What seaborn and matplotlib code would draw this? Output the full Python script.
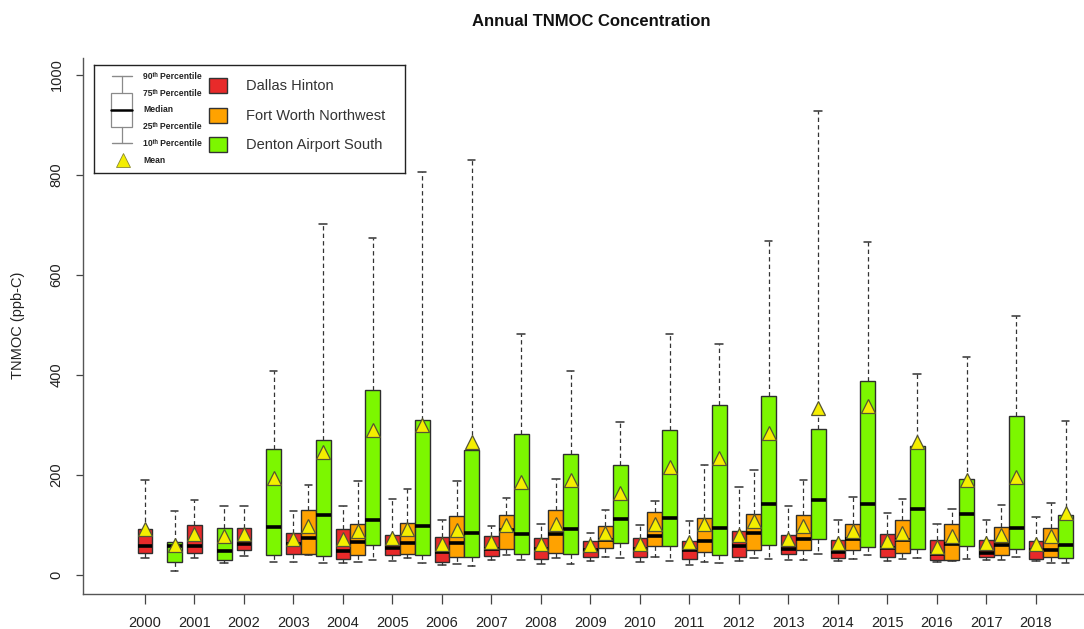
import numpy as np
import pandas as pd
import matplotlib
matplotlib.use("Agg")
import matplotlib.pyplot as plt
from matplotlib.patches import Rectangle
import seaborn as sns

years = list(range(2000, 2019))
year_labels = [str(y) for y in years]
sites = ["Dallas Hinton", "Fort Worth Northwest", "Denton Airport South"]
site_colors = ["#e82a2a", "#ffa200", "#7cf700"]
nan = np.nan

# Dallas Hinton
dal_p10 = [35, 35, 39, 27, 25, 29, 21, 31, 23, 29, 27, 20, 29, 31, 29, 28, 27, 30, 28]
dal_p25 = [45, 44, 50, 43, 32, 41, 26, 39, 32, 37, 37, 33, 37, 42, 35, 37, 31, 37, 33]
dal_p50 = [59, 58, 63, 63, 48, 55, 47, 53, 53, 50, 53, 50, 59, 52, 47, 55, 43, 45, 51]
dal_p75 = [92, 100, 95, 85, 92, 81, 77, 78, 75, 68, 75, 68, 89, 80, 71, 83, 70, 70, 68]
dal_p90 = [190, 151, 138, 128, 138, 153, 111, 98, 102, 85, 100, 108, 177, 139, 110, 125, 102, 111, 117]
dal_mean = [92, 82, 82, 72, 73, 75, 63, 67, 63, 61, 63, 67, 80, 72, 65, 69, 57, 65, 63]

# Fort Worth Northwest (no data 2000-2002)
ftw_p10 = [nan, nan, nan, 41, 27, 35, 23, 41, 35, 37, 37, 27, 35, 31, 33, 33, 29, 30, 25]
ftw_p25 = [nan, nan, nan, 43, 40, 43, 37, 53, 45, 55, 58, 47, 51, 50, 51, 45, 30, 41, 37]
ftw_p50 = [nan, nan, nan, 74, 67, 65, 65, 90, 83, 71, 79, 68, 85, 73, 72, 71, 63, 60, 50]
ftw_p75 = [nan, nan, nan, 130, 103, 105, 119, 120, 131, 99, 127, 115, 123, 121, 102, 110, 102, 97, 95]
ftw_p90 = [nan, nan, nan, 181, 189, 173, 189, 155, 193, 130, 149, 220, 211, 190, 157, 152, 132, 140, 145]
ftw_mean = [nan, nan, nan, 99, 89, 92, 90, 100, 103, 85, 103, 102, 108, 99, 89, 85, 78, 80, 79]

# Denton Airport South
den_p10 = [9, 25, 27, 24, 30, 25, 19, 30, 23, 35, 29, 25, 32, 43, 40, 35, 33, 37, 24]
den_p25 = [27, 31, 41, 39, 61, 41, 37, 43, 42, 65, 58, 40, 61, 72, 57, 53, 58, 52, 35]
den_p50 = [59, 49, 97, 121, 110, 99, 85, 82, 93, 112, 115, 95, 142, 150, 142, 133, 123, 95, 61]
den_p75 = [66, 95, 252, 271, 370, 310, 250, 282, 243, 220, 290, 340, 358, 293, 389, 259, 193, 318, 120]
den_p90 = [128, 138, 408, 702, 675, 807, 830, 483, 409, 307, 483, 463, 669, 928, 667, 402, 437, 519, 309]
den_mean = [60, 78, 195, 247, 290, 301, 267, 187, 190, 165, 217, 235, 285, 335, 338, 267, 191, 197, 125]

stats_by_site = {
    sites[0]: (dal_p10, dal_p25, dal_p50, dal_p75, dal_p90, dal_mean),
    sites[1]: (ftw_p10, ftw_p25, ftw_p50, ftw_p75, ftw_p90, ftw_mean),
    sites[2]: (den_p10, den_p25, den_p50, den_p75, den_p90, den_mean),
}

box_rows, mean_rows = [], []
for site, (p10, p25, p50, p75, p90, mn) in stats_by_site.items():
    for i, yl in enumerate(year_labels):
        vals = [p10[i], p25[i], p50[i], p75[i], p90[i]]
        if np.any(np.isnan(vals)):
            continue
        for v in vals:
            box_rows.append((yl, site, v))
        mean_rows.append((yl, site, mn[i]))
df_box = pd.DataFrame(box_rows, columns=["year", "site", "value"])
df_mean = pd.DataFrame(mean_rows, columns=["year", "site", "mean"])

sns.set_style("ticks")
plt.rcParams["font.family"] = ["Liberation Sans", "DejaVu Sans"]

fig = plt.figure(figsize=(10.84, 6.29), dpi=100)
ax = fig.add_axes([83 / 1084, 1 - 594 / 629, 1 - 83 / 1084, (594 - 58) / 629])

edge = "#2e2e2e"
sns.boxplot(
    data=df_box, x="year", y="value", hue="site",
    order=year_labels, hue_order=sites,
    palette=dict(zip(sites, site_colors)), saturation=1,
    width=0.9, gap=0, dodge=True, whis=(0, 100), showfliers=False,
    linecolor=edge, linewidth=1.0,
    medianprops={"color": "black", "linewidth": 2.6},
    whiskerprops={"linestyle": (0, (3.5, 2.5)), "linewidth": 0.9, "color": "#333333"},
    capprops={"linewidth": 1.1, "color": "#333333"},
    legend=False, ax=ax,
)

sns.pointplot(
    data=df_mean, x="year", y="mean", hue="site",
    order=year_labels, hue_order=sites,
    dodge=0.6, linestyle="none", markers="^", errorbar=None,
    palette={s: "#f4ee00" for s in sites},
    markersize=10.5, markeredgecolor="#555533", markeredgewidth=0.9,
    legend=False, ax=ax, zorder=10,
)

ax.set_xlim(-1.5525, 18.67)
ax.set_ylim(-38, 1034)
ax.set_xticks([i - 0.3 for i in range(len(years))])
ax.set_xticklabels(year_labels)
ax.set_yticks([0, 200, 400, 600, 800, 1000])
ax.set_xlabel("")
ax.set_ylabel("")
ax.tick_params(axis="x", length=7, width=0.9, pad=9, labelsize=10.5, color="#444444", labelcolor="#222222")
ax.tick_params(axis="y", length=5, width=0.9, pad=9, labelsize=10.5, color="#444444", labelcolor="#222222")
plt.setp(ax.get_yticklabels(), rotation=90, va="center")
for s in ["top", "right"]:
    ax.spines[s].set_visible(False)
for s in ["left", "bottom"]:
    ax.spines[s].set_color("#555555")
    ax.spines[s].set_linewidth(1.0)
ax.grid(False)

fig.text(591 / 1084, 1 - 21 / 629, "Annual TNMOC Concentration", ha="center", va="center",
         fontsize=12, fontweight="bold", color="#111111")
fig.text(18 / 1084, 1 - 325 / 629, "TNMOC (ppb-C)", ha="center", va="center",
         rotation=90, fontsize=10.5, color="#222222")

# legend panel
lg = fig.add_axes([94 / 1084, 1 - 173 / 629, 311 / 1084, 108 / 629])
lg.set_xlim(0, 311)
lg.set_ylim(108, 0)
lg.set_xticks([])
lg.set_yticks([])
for s in lg.spines.values():
    s.set_color("#222222")
    s.set_linewidth(1.0)
lg.set_facecolor("white")
lg.set_zorder(20)

gray = "#8a8a8a"
lg.plot([28, 28], [11, 28], color=gray, lw=0.9)
lg.plot([28, 28], [62, 78], color=gray, lw=0.9)
lg.plot([18, 38], [11, 11], color=gray, lw=1.0)
lg.plot([18, 38], [78, 78], color=gray, lw=1.0)
lg.add_patch(Rectangle((17, 28), 21, 34, facecolor="white", edgecolor=gray, lw=0.9))
lg.plot([17, 38], [45, 45], color="black", lw=1.8)
lg.plot([29], [95], marker="^", markersize=10, markerfacecolor="#f4ee00",
        markeredgecolor="#888833", markeredgewidth=0.6, linestyle="none")

small_font = ["Liberation Sans Narrow", "Liberation Sans", "DejaVu Sans"]
leg_labels = ["90ᵗʰ Percentile", "75ᵗʰ Percentile", "Median", "25ᵗʰ Percentile", "10ᵗʰ Percentile", "Mean"]
leg_ys = [11.5, 28.5, 45, 61.5, 78.5, 95.5]
for t, yy in zip(leg_labels, leg_ys):
    lg.text(49, yy, t, ha="left", va="center", fontsize=6.2, fontweight="bold",
            family=small_font, color="#222222")

for k, (site, col) in enumerate(zip(sites, site_colors)):
    y0 = 13 + 29.5 * k
    lg.add_patch(Rectangle((115, y0), 18, 15, facecolor=col, edgecolor="#333333", lw=1.0))
    lg.text(152, y0 + 8, site, ha="left", va="center", fontsize=10.5, color="#333333")

fig.savefig("out.png", dpi=100)
